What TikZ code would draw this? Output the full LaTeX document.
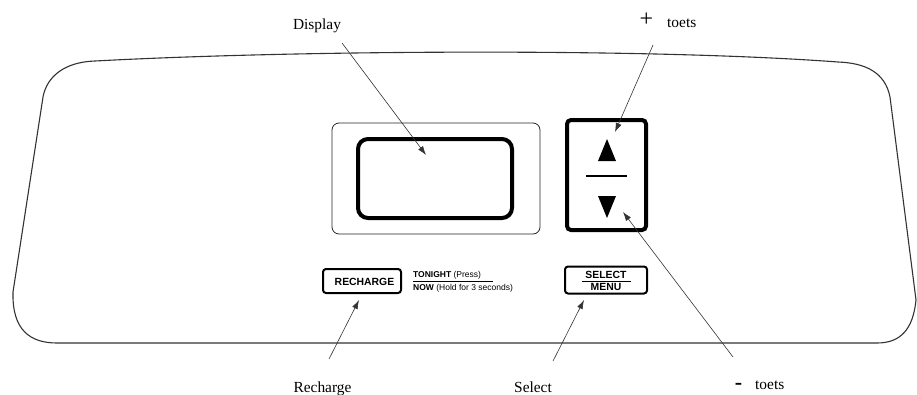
\documentclass[tikz,border=0pt]{standalone}
\usepackage{fontspec}
\setmainfont{Liberation Serif}
\newfontfamily\arial{Liberation Sans}
\usetikzlibrary{arrows.meta}
\tikzset{
  outline/.style={line width=1.1pt, draw=black!80},
  thickbox/.style={draw=black, line width=4pt, inner sep=0pt},
  thinbox/.style={draw=black!85, line width=0.8pt, inner sep=0pt, rounded corners=7pt},
  btn/.style={draw=black, line width=2pt, inner sep=0pt, rounded corners=3pt},
  lbl/.style={font=\fontsize{15.4}{17}\selectfont, inner sep=0pt, anchor=base},
  small/.style={font=\arial\fontsize{8.5}{10}\selectfont, inner sep=0pt, anchor=base west},
  btntext/.style={font=\arial\bfseries\fontsize{10.4}{12}\selectfont, inner sep=0pt, anchor=base},
  pointer/.style={draw=black!80, line width=0.6pt, -{Latex[length=9pt,width=6pt]}},
}
\begin{document}
\begin{tikzpicture}[x=1pt,y=-1pt]
\useasboundingbox (0,0) rectangle (917,394);
% housing outline
\draw[outline] (95,61) .. controls (300,50) and (650,48) .. (838,62)
  .. controls (865,63) and (885,72) .. (890,97)
  -- (916,300)
  .. controls (913,330) and (900,343) .. (877,343)
  -- (57,343)
  .. controls (30,343) and (12,330) .. (13,292)
  -- (43,97)
  .. controls (47,76) and (65,62) .. (95,61);
% display
\node[thinbox, minimum width=208pt, minimum height=111pt] (dispout) at (436,178.5) {};
\node[thickbox, rounded corners=10pt, minimum width=154pt, minimum height=79pt] (dispin) at (435,178.5) {};
% keypad
\node[thickbox, rounded corners=4pt, minimum width=79pt, minimum height=110pt] (keypad) at (606.5,175) {};
\fill (598,161) -- (607,139) -- (616,161) -- cycle;
\fill (598,196) -- (607,218) -- (616,196) -- cycle;
\draw[line width=1.3pt] (586,176) -- (627,176);
% recharge button
\node[btn, minimum width=78pt, minimum height=24pt] (rech) at (362,281) {};
\node[btntext] (rechtxt) at (364.5,285) {RECHARGE};
\node[small] (tonight) at (413,277) {\bfseries TONIGHT\mdseries{} (Press)};
\node[small] (now) at (413,290) {\bfseries NOW\mdseries{} (Hold for 3 seconds)};
\draw[line width=0.8pt] (413,281) -- (493,281);
% select button
\node[btn, minimum width=82pt, minimum height=27pt] (sel) at (606,280) {};
\node[btntext] (seltxt) at (606,278) {SELECT};
\node[btntext] (menutxt) at (606,290) {MENU};
\draw[line width=1pt] (582,281) -- (631,281);
% labels
\node[lbl] (ldisp) at (317,29) {Display};
\node[font=\fontsize{24}{26}\selectfont, inner sep=0pt, anchor=base] (lplus) at (646.5,26) {+};
\node[lbl, anchor=base west] (lplustoets) at (667,27) {toets};
\node[font=\bfseries\fontsize{22}{24}\selectfont, inner sep=0pt, anchor=base] (lminus) at (738.5,389) {-};
\node[lbl, anchor=base west] (lmintoets) at (755,389) {toets};
\node[lbl] (lrech) at (322.5,392) {Recharge};
\node[lbl] (lsel) at (533,392) {Select};
% pointer ends
\coordinate (dispstart) at (342,43);
\coordinate (disptip) at (426,155);
\coordinate (plusstart) at (653,45);
\coordinate (plustip) at (615,132);
\coordinate (minstart) at (733,357);
\coordinate (mintip) at (623,212);
\coordinate (rechstart) at (329,359);
\coordinate (rechtip) at (359,300);
\coordinate (selstart) at (553,361);
\coordinate (seltip) at (584,300);
\draw[pointer] (dispstart) -- (disptip);
\draw[pointer] (plusstart) -- (plustip);
\draw[pointer] (minstart) -- (mintip);
\draw[pointer] (rechstart) -- (rechtip);
\draw[pointer] (selstart) -- (seltip);
\end{tikzpicture}
\end{document}
